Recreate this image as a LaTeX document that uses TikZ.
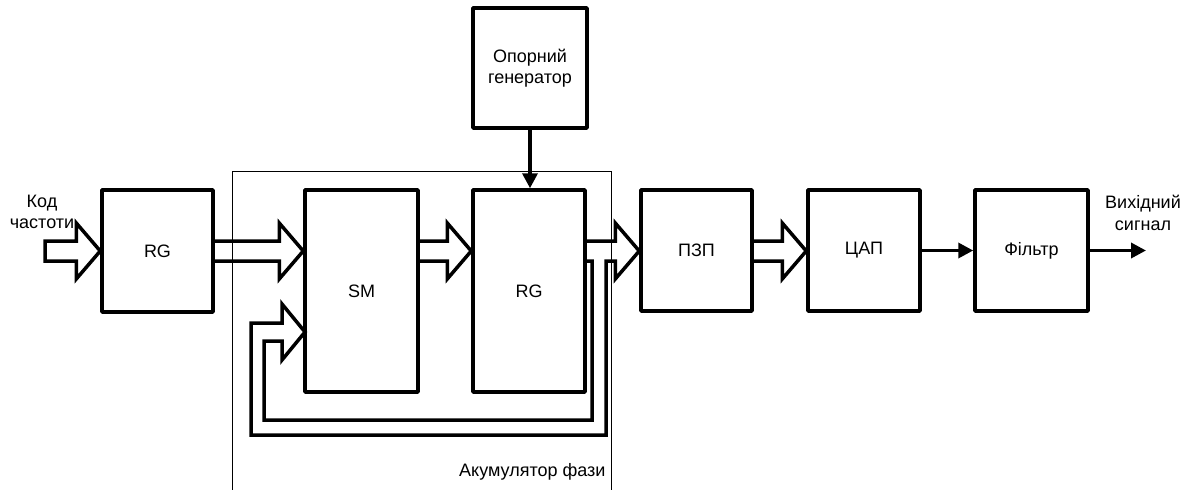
\documentclass[tikz,border=0pt]{standalone}
\usepackage{fontspec}
\setmainfont{Liberation Sans}
\usetikzlibrary{calc,arrows.meta}
\newcommand\wideArrow[2]{%
  \draw[wa] ($(#1)+(0,-10)$) -- ($(#2)+(-24,-10)$) -- ($(#2)+(-24,-28)$) -- (#2)
    -- ($(#2)+(-24,28)$) -- ($(#2)+(-24,10)$) -- ($(#1)+(0,10)$);}
\begin{document}
\begin{tikzpicture}[x=1pt,y=-1pt,
  every node/.style={font=\fontsize{18}{21.5}\selectfont},
  blk/.style={draw,line width=3.5pt,line join=round,inner sep=0pt},
  wa/.style={line width=3.5pt,line join=miter},
  ta/.style={line width=3.5pt,-{Triangle[length=15pt,width=15pt]}},
  frame/.style={line width=1pt}]
\useasboundingbox (0,0) rectangle (1187,490);
% blocks
\node[blk,minimum width=111pt,minimum height=122pt] (rg1) at (157.5,251) {RG};
\node[blk,minimum width=113pt,minimum height=202pt] (sm) at (361.5,291) {SM};
\node[blk,minimum width=112pt,minimum height=202pt] (rg2) at (529,291) {RG};
\node[blk,minimum width=114pt,minimum height=120pt,align=center] (og) at (530,68) {Опорний\\генератор};
\node[blk,minimum width=111pt,minimum height=121pt] (pzp) at (696.5,250.5) {ПЗП};
\node[blk,minimum width=112pt,minimum height=121pt] (dac) at (864,250.5) {ЦАП};
\node[blk,minimum width=113pt,minimum height=121pt] (flt) at (1031.5,250.5) {Фільтр};
% labels
\node[align=center] (lin) at (42,212) {Код\\частоти};
\node[align=center] (lout) at (1143,213) {Вихідний\\сигнал};
% accumulator frame
\coordinate (fa) at (232,490);
\coordinate (fb) at (232,171);
\coordinate (fc) at (611,171);
\coordinate (fd) at (611,490);
\draw[frame] (fa) -- (fb) -- (fc) -- (fd);
\node[anchor=east] (acc) at (609,472) {Акумулятор фази};
% input wide arrow
\coordinate (in) at (45,251);
\draw[wa] (in) ++(0,-10) -- ($(rg1.west)+(-24,-10)$) -- ($(rg1.west)+(-24,-28)$) -- (rg1.west)
  -- ($(rg1.west)+(-24,28)$) -- ($(rg1.west)+(-24,10)$) -- ($(in)+(0,10)$) -- cycle;
% wide arrows between blocks
\coordinate (smin) at (sm.west |- rg1.east);
\wideArrow{rg1.east}{smin}
\coordinate (smout) at (sm.east |- rg1.east);
\coordinate (rg2in) at (rg2.west |- rg1.east);
\wideArrow{smout}{rg2in}
\coordinate (pzpout) at (pzp.east |- rg1.east);
\coordinate (dacin) at (dac.west |- rg1.east);
\wideArrow{pzpout}{dacin}
% RG2 -> PZP with feedback
\coordinate (rg2out) at (rg2.east |- rg1.east);
\coordinate (pzpin) at (pzp.west |- rg1.east);
\draw[wa] ($(rg2out)+(0,-10)$) -- ($(pzpin)+(-24,-10)$) -- ($(pzpin)+(-24,-28)$) -- (pzpin)
  -- ($(pzpin)+(-24,28)$) -- ($(pzpin)+(-24,10)$) -- (606,261) -- (606,435) -- (251,435)
  -- (251,323) coordinate (fbtop) -- (282,323) -- (282,304) -- (305,332) coordinate (fbtip)
  -- (282,360) -- (282,341) -- (264,341) -- (264,420) -- (592,420) -- (592,261) -- ($(rg2out)+(0,10)$);
% simple arrows
\draw[ta] (og.south) -- (og.south |- rg2.north);
\draw[ta] (dac.east) -- (flt.west);
\coordinate (out) at (1146,250.5);
\draw[ta] (flt.east) -- (out);
\end{tikzpicture}
\end{document}
